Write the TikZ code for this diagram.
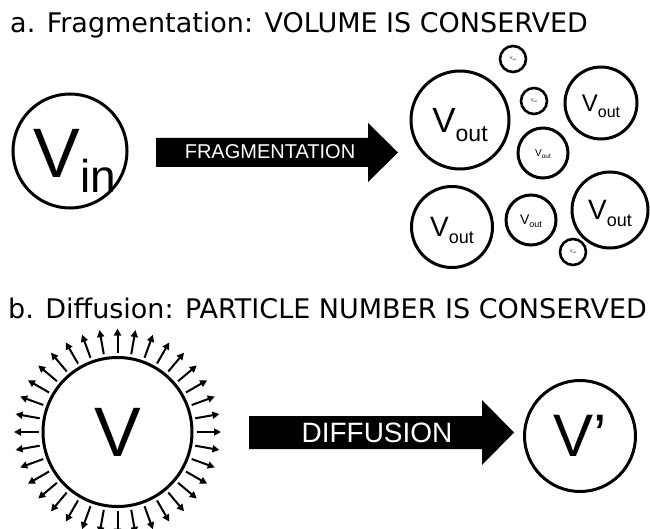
\documentclass[tikz,border=0pt]{standalone}
\usepackage{fontspec}
\setmainfont{Liberation Sans}
\newfontfamily\titlefont{DejaVu Sans}
\usetikzlibrary{arrows.meta,calc}
\newcommand{\fs}[1]{\fontsize{#1}{#1}\selectfont}
\newcommand{\Vlab}[4]{{\fs{#1}V\raisebox{-#3pt}{\fs{#2}#4}}}
\begin{document}
\begin{tikzpicture}[x=1pt,y=-1pt,
  bub/.style={circle, draw, line width=3pt, inner sep=0pt, minimum size=#1},
  lab/.style={inner sep=0pt},
  title/.style={anchor=base west, inner sep=0pt, font=\titlefont\fs{27}},
  ray/.style={line width=2pt, -{Triangle[length=7pt,width=7pt]}},
  barrow/.style={fill=black},
  atext/.style={inner sep=0pt, text=white}]
\useasboundingbox (0,0) rectangle (650,529);
% titles
\node[title] (ta) at (10,33) {a. Fragmentation: VOLUME IS CONSERVED};
\node[title] (tb) at (8,318) {b. Diffusion: PARTICLE NUMBER IS CONSERVED};
% fragmentation
\node[bub=114pt] (vin) at (70,151) {};
\node[lab] (vint) at ([xshift=5pt,yshift=-10pt]vin.center) {\Vlab{70}{46}{15}{in}};
\fill[barrow] (156,138) -- (368,138) -- (368,123) -- (398,152.5) -- (368,182) -- (368,167) -- (156,167) -- cycle;
\node[atext] (fragt) at (270,152) {\fs{20}FRAGMENTATION};
\node[bub=98pt] (o1) at (460,120) {};
\node[lab] (o1t) at ([yshift=-5pt]o1.center) {\Vlab{35}{23}{9}{out}};
\node[bub=72pt] (o2) at (601,103) {};
\node[lab] (o2t) at ([yshift=-3pt]o2.center) {\Vlab{24}{16}{6}{out}};
\node[bub=76pt] (o3) at (610,210) {};
\node[lab] (o3t) at ([yshift=-3pt]o3.center) {\Vlab{28}{18}{7}{out}};
\node[bub=81pt] (o4) at (452,227) {};
\node[lab] (o4t) at ([yshift=-3pt]o4.center) {\Vlab{28}{18}{7}{out}};
\node[bub=50pt] (o5) at (543,153) {};
\node[lab] (o5t) at ([yshift=-1pt]o5.center) {\Vlab{10}{6.5}{2.5}{out}};
\node[bub=50pt] (o6) at (531,220) {};
\node[lab] (o6t) at ([yshift=-1pt]o6.center) {\Vlab{14}{9}{3.5}{out}};
\node[bub=26pt, line width=2.6pt] (o7) at (513,59) {};
\node[lab] (o7t) at (o7.center) {\Vlab{4}{2.6}{1}{out}};
\node[bub=26pt, line width=2.6pt] (o8) at (534,101) {};
\node[lab] (o8t) at (o8.center) {\Vlab{4}{2.6}{1}{out}};
\node[bub=26pt, line width=2.6pt] (o9) at (573,252) {};
\node[lab] (o9t) at (o9.center) {\Vlab{4}{2.6}{1}{out}};
% diffusion
\node[bub=149pt] (v) at (117.5,432) {};
\node[lab] (vt) at (v.center) {\fs{70}V};
\foreach \a in {0,10,...,350}
  \draw[ray] ($(v.center)+(\a:79pt)$) -- ($(v.center)+(\a:103.5pt)$);
\fill[barrow] (249,416) -- (482,416) -- (482,400) -- (514,432.5) -- (482,465) -- (482,449) -- (249,449) -- cycle;
\node[atext] (difft) at (377,432.5) {\fs{28}DIFFUSION};
\node[bub=111pt] (vp) at (580,436) {};
\node[lab] (vpt) at (vp.center) {\fs{60}V’};
\end{tikzpicture}
\end{document}
